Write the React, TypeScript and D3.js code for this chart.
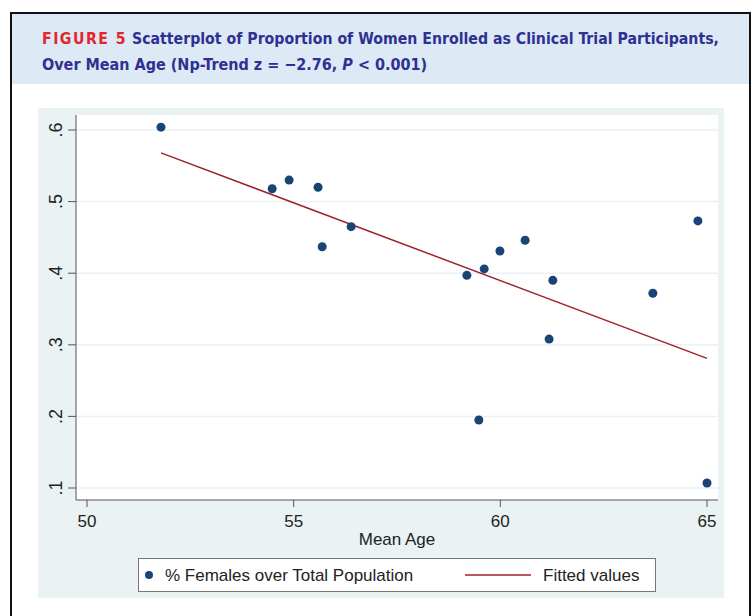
import React from "react";
import * as d3 from "d3";

const meanAge = [51.79, 54.48, 54.89, 55.59, 55.69, 56.39, 59.19, 59.61, 59.48, 59.99, 60.6, 61.27, 61.18, 63.69, 64.78, 65.0];
const propFemale = [0.604, 0.518, 0.53, 0.52, 0.437, 0.465, 0.397, 0.406, 0.195, 0.431, 0.446, 0.39, 0.308, 0.372, 0.473, 0.107];
const fitAge = [51.79, 65.0];
const fitValue = [0.568, 0.281];
const xTicks = [50, 55, 60, 65];
const yTicks = [0.1, 0.2, 0.3, 0.4, 0.5, 0.6];
const yTickLabels = [".1", ".2", ".3", ".4", ".5", ".6"];

const W = 756;
const H = 616;

export default function App() {
  const x = d3.scaleLinear().domain([50, 65]).range([87, 707]);
  const y = d3.scaleLinear().domain([0.1, 0.6]).range([488, 130]);
  const plotL = 76, plotR = 718, plotT = 115, plotB = 500;
  const line = d3.line<number>().x((d) => x(d)).y((_, i) => y(fitValue[i]));
  const font = "Liberation Sans, Arial, sans-serif";
  const titleFont = "'DejaVu Sans Condensed', 'Liberation Sans Narrow', sans-serif";
  return (
    <svg width={W} height={H} style={{ position: "absolute", left: 0, top: 0, background: "#fff" }}>
      {/* header band */}
      <rect x={11} y={13} width={739} height={71} fill="#dde9f5" />
      <rect x={11} y={13} width={739} height={H} fill="none" stroke="#111" strokeWidth={2} />
      <text x={42} y={44} fontFamily={titleFont} fontWeight="bold" fontSize={16} textLength={677} lengthAdjust="spacingAndGlyphs">
        <tspan fill="#e3262d" letterSpacing={1.5}>FIGURE 5</tspan>
        <tspan fill="#2e3192">{"  Scatterplot of Proportion of Women Enrolled as Clinical Trial Participants,"}</tspan>
      </text>
      <text x={42} y={70} fontFamily={titleFont} fontWeight="bold" fontSize={16} fill="#2e3192">
        <tspan>{"Over Mean Age (Np-Trend z = −2.76, "}</tspan>
        <tspan fontStyle="italic">P</tspan>
        <tspan>{" < 0.001)"}</tspan>
      </text>
      {/* graph region */}
      <rect x={38} y={108} width={686} height={490} fill="#eaf2f3" />
      <rect x={plotL} y={plotT} width={plotR - plotL} height={plotB - plotT} fill="#fff" />
      {/* gridlines */}
      {yTicks.map((t) => (
        <line key={"g" + t} x1={plotL} x2={plotR} y1={y(t)} y2={y(t)} stroke="#eaf2f3" strokeWidth={1.5} />
      ))}
      {/* axes */}
      <line x1={plotL} x2={plotL} y1={plotT} y2={plotB} stroke="#555" strokeWidth={1} />
      <line x1={plotL} x2={plotR} y1={plotB} y2={plotB} stroke="#555" strokeWidth={1} />
      {yTicks.map((t, i) => (
        <g key={"y" + t}>
          <line x1={plotL - 8} x2={plotL} y1={y(t)} y2={y(t)} stroke="#555" />
          <text
            transform={`translate(${62},${y(t)}) rotate(-90)`}
            textAnchor="middle"
            fontFamily={font}
            fontSize={18}
            fill="#222"
          >
            {yTickLabels[i]}
          </text>
        </g>
      ))}
      {xTicks.map((t) => (
        <g key={"x" + t}>
          <line x1={x(t)} x2={x(t)} y1={plotB} y2={plotB + 7} stroke="#555" />
          <text x={x(t)} y={527} textAnchor="middle" fontFamily={font} fontSize={17} fill="#222">
            {t}
          </text>
        </g>
      ))}
      <text x={397} y={545} textAnchor="middle" fontFamily={font} fontSize={17} fill="#222">
        Mean Age
      </text>
      {/* fitted line */}
      <path d={line(fitAge) || ""} fill="none" stroke="#a02228" strokeWidth={1.5} />
      {/* points */}
      {meanAge.map((a, i) => (
        <circle key={i} cx={x(a)} cy={y(propFemale[i])} r={4.5} fill="#1a4476" />
      ))}
      {/* legend */}
      <rect x={138.5} y={558.5} width={517} height={33} fill="#fff" stroke="#777" strokeWidth={1} />
      <circle cx={149} cy={575} r={4} fill="#1a4476" />
      <text x={165} y={581} fontFamily={font} fontSize={17} fill="#222">
        % Females over Total Population
      </text>
      <line x1={465} x2={531} y1={575} y2={575} stroke="#a02228" strokeWidth={1.5} />
      <text x={543} y={581} fontFamily={font} fontSize={17} fill="#222">
        Fitted values
      </text>
    </svg>
  );
}
